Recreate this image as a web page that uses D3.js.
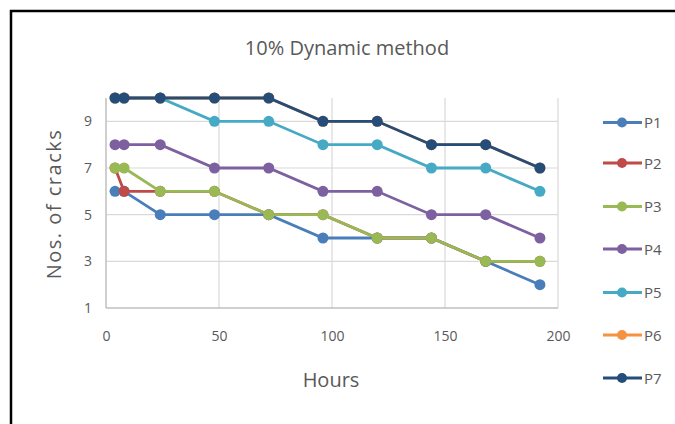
<!DOCTYPE html>
<html><head><meta charset="utf-8">
<script src="https://cdn.jsdelivr.net/npm/d3@7"></script>
<style>
html,body{margin:0;padding:0;background:#fff;}
svg{display:block;}
text{font-family:"Liberation Sans Narrow","Open Sans",Lato,sans-serif;fill:#595959;}
</style></head>
<body><svg id="c" width="675" height="424"></svg>
<script>
const hours = [4, 8, 24, 48, 72, 96, 120, 144, 168, 192];
const seriesNames = ["P1","P2","P3","P4","P5","P6","P7"];
const P1 = [6, 6, 5, 5, 5, 4, 4, 4, 3, 2];
const P2 = [7, 6, 6, 6, 5, 5, 4, 4, 3, 3];
const P3 = [7, 7, 6, 6, 5, 5, 4, 4, 3, 3];
const P4 = [8, 8, 8, 7, 7, 6, 6, 5, 5, 4];
const P5 = [10, 10, 10, 9, 9, 8, 8, 7, 7, 6];
const P6 = [10, 10, 10, 10, 10, 9, 9, 8, 8, 7];
const P7 = [10, 10, 10, 10, 10, 9, 9, 8, 8, 7];
const xTicks = [0, 50, 100, 150, 200];
const yTicks = [1, 3, 5, 7, 9];
const colors = ["#4A7EBB","#BE4B48","#98B954","#7D60A0","#46AAC5","#F69240","#254D7A"];
const values = [P1,P2,P3,P4,P5,P6,P7];

const svg = d3.select("#c");
// frame
svg.append("path").attr("d","M11,424 L11,11 L675,11").attr("fill","none").attr("stroke","#000").attr("stroke-width",2.5);

const x = d3.scaleLinear().domain([0,200]).range([106,558]);
const y = d3.scaleLinear().domain([1,10]).range([308,98]);

// gridlines
svg.append("g").selectAll("line").data(yTicks.slice(1)).join("line")
  .attr("x1",x(0)).attr("x2",x(200)).attr("y1",d=>y(d)).attr("y2",d=>y(d))
  .attr("stroke","#d9d9d9").attr("stroke-width",1.2);
svg.append("g").selectAll("line").data(xTicks.slice(1)).join("line")
  .attr("x1",d=>x(d)).attr("x2",d=>x(d)).attr("y1",y(1)).attr("y2",y(10))
  .attr("stroke","#d9d9d9").attr("stroke-width",1.2);
// axis lines
svg.append("line").attr("x1",x(0)).attr("x2",x(200)).attr("y1",y(1)).attr("y2",y(1)).attr("stroke","#bfbfbf").attr("stroke-width",1.5);
svg.append("line").attr("x1",x(0)).attr("x2",x(0)).attr("y1",y(1)).attr("y2",y(10)).attr("stroke","#bfbfbf").attr("stroke-width",1.5);

// axes labels via d3 axes
const xAxis = svg.append("g").attr("transform",`translate(0,${y(1)})`)
  .call(d3.axisBottom(x).tickValues(xTicks).tickSize(0).tickPadding(23));
xAxis.select(".domain").remove();
xAxis.selectAll("text").attr("font-size",14).style("fill","#595959").attr("font-family",null);
const yAxis = svg.append("g").attr("transform",`translate(${x(0)},0)`)
  .call(d3.axisLeft(y).tickValues(yTicks).tickSize(0).tickPadding(14));
yAxis.select(".domain").remove();
yAxis.selectAll("text").attr("font-size",14).style("fill","#595959").attr("font-family",null);

// titles
svg.append("text").attr("x",347).attr("y",55).attr("text-anchor","middle").attr("font-size",20).text("10% Dynamic method");
svg.append("text").attr("x",331).attr("y",387).attr("text-anchor","middle").attr("font-size",20).text("Hours");
svg.append("text").attr("transform","translate(61,204) rotate(-90)").attr("text-anchor","middle")
  .attr("font-size",20).attr("letter-spacing",1.5).text("Nos. of cracks");

// series
const line = d3.line().x((d,i)=>x(hours[i])).y(d=>y(d));
values.forEach((vals,k)=>{
  const g = svg.append("g");
  g.append("path").attr("d",line(vals)).attr("fill","none").attr("stroke",colors[k]).attr("stroke-width",2.8);
  g.selectAll("circle").data(vals).join("circle")
    .attr("cx",(d,i)=>x(hours[i])).attr("cy",d=>y(d)).attr("r",5.5).attr("fill",colors[k]);
});

// legend
const legY = [122.5, 163, 206.5, 249, 292.5, 335, 378];
seriesNames.forEach((n,k)=>{
  const g = svg.append("g");
  g.append("line").attr("x1",603).attr("x2",642).attr("y1",legY[k]).attr("y2",legY[k]).attr("stroke",colors[k]).attr("stroke-width",2.8);
  g.append("circle").attr("cx",622).attr("cy",legY[k]).attr("r",5).attr("fill",colors[k]);
  g.append("text").attr("x",644).attr("y",legY[k]+5.5).attr("font-size",15).text(n);
});
</script></body></html>
